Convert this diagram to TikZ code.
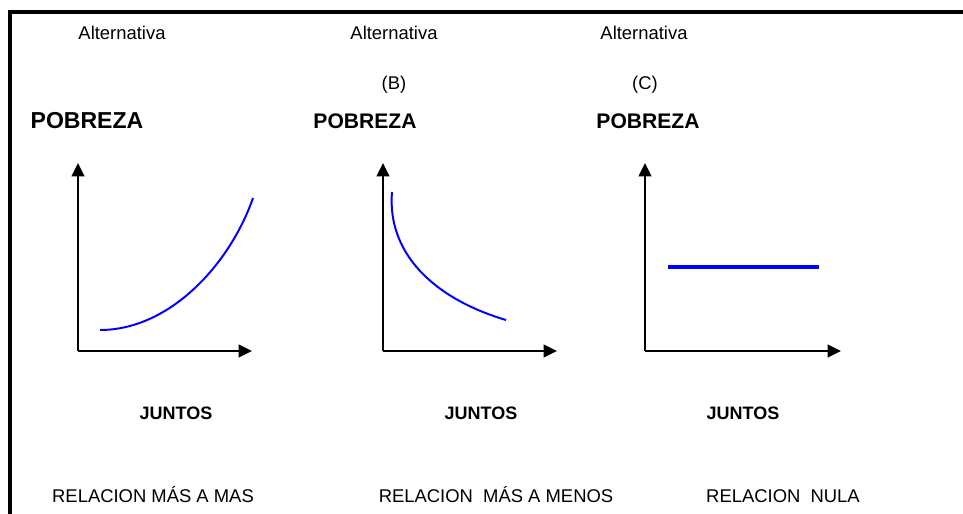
\documentclass[tikz,border=0pt]{standalone}
\usepackage{fontspec}
\setmainfont{Liberation Sans}
\usetikzlibrary{arrows.meta}
\tikzset{
	axis/.style={line width=1.7pt,-{Triangle[length=9.5pt,width=9pt]}},
	curve/.style={blue,line width=1.4pt},
	txt/.style={anchor=base,inner sep=0pt,font=\fontsize{13.1}{15}\selectfont},
	bold/.style={anchor=base,inner sep=0pt,font=\bfseries\fontsize{#1}{18}\selectfont},
}

\begin{document}
\begin{tikzpicture}[x=0.025cm,y=-0.025cm]
	\useasboundingbox (0,0) rectangle (963,514);
	\draw[line width=2.2pt] (10,530) -- (10,12) -- (980,12);
	% headings
	\node[txt] (alta) at (122,39) {Alternativa};
	\node[txt] (altb) at (394,39) {Alternativa};
	\node[txt] (altc) at (644,39) {Alternativa};
	\node[txt] (letb) at (394,89) {(B)};
	\node[txt] (letc) at (645,89) {(C)};
	\node[bold=16.4] (poba) at (87,128) {POBREZA};
	\node[bold=15] (pobb) at (365,128) {POBREZA};
	\node[bold=15] (pobc) at (648,128) {POBREZA};
	% axes
	\foreach \nm/\ox/\xe in {a/78/252,b/383/557,c/645/841}{
		\coordinate (o\nm) at (\ox,351);
		\coordinate (y\nm) at (\ox,163);
		\coordinate (x\nm) at (\xe,351);
		\draw[axis] (o\nm) -- (y\nm);
		\draw[axis] (o\nm) -- (x\nm);
	}
	% curves
	\draw[curve] (100,330) .. controls (170,330) and (230,264) .. (253,198);
	\draw[curve] (392,192) .. controls (387,252) and (432,298) .. (506,320);
	\draw[blue,line width=2.6pt] (668,267) -- (819,267);
	% bottom labels
	\node[bold=12.8] (juna) at (176,419) {JUNTOS};
	\node[bold=12.8] (junb) at (481,419) {JUNTOS};
	\node[bold=12.8] (junc) at (743,419) {JUNTOS};
	\node[txt] (rela) at (153,502) {RELACION MÁS A MAS};
	\node[txt] (relb) at (496,502) {RELACION\ \ MÁS A MENOS};
	\node[txt] (relc) at (783,502) {RELACION\ \ NULA};
\end{tikzpicture}
\end{document}
